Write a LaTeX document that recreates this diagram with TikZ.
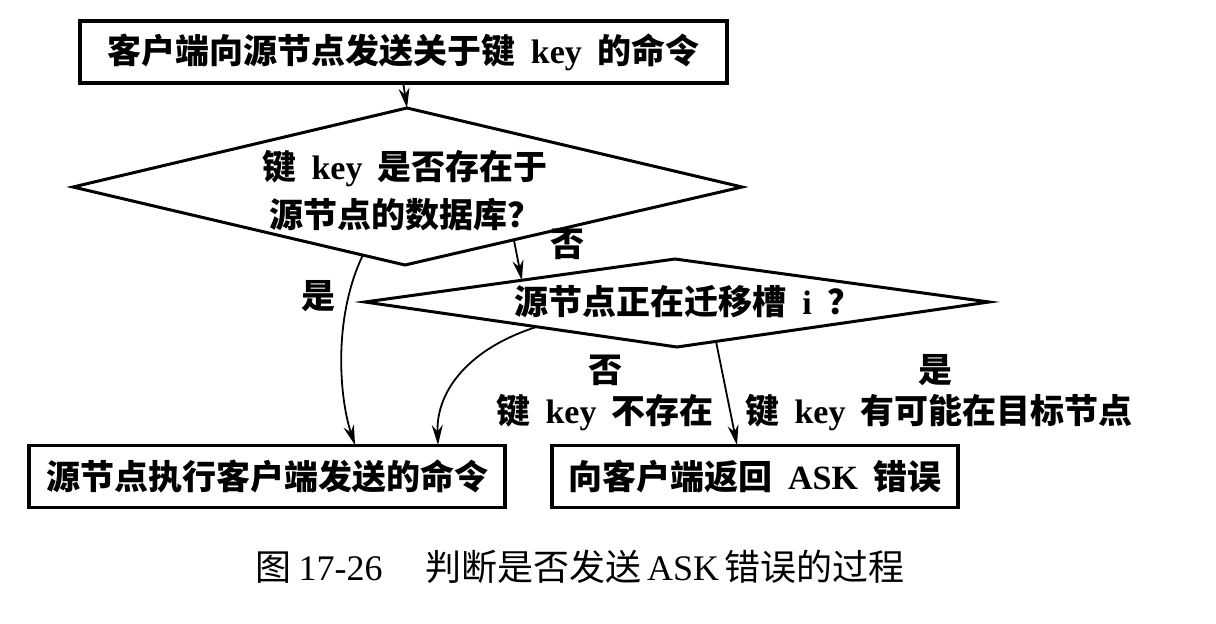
\documentclass[tikz,border=0pt]{standalone}
\usepackage{fontspec}
\setmainfont{Liberation Serif}
\newfontfamily\cjkfont{Noto Sans CJK SC}
\newcommand\zh[1]{{\cjkfont #1}}
\newcommand\gp{\hspace{0.45em}}
\usetikzlibrary{arrows.meta,calc}
\tikzset{
  box/.style={draw, line width=3.5pt, minimum height=62pt, inner sep=0pt, font=\fontsize{34}{46}\selectfont\bfseries},
  dia/.style={draw, line width=3pt, line join=miter},
  txt/.style={inner sep=0pt, align=center, font=\fontsize{34}{48}\selectfont\bfseries},
  conn/.style={draw, line width=1.8pt, -{Stealth[length=20pt,width=11pt]}},
}
\begin{document}
\begin{tikzpicture}[x=1pt,y=-1pt]
\useasboundingbox (0,0) rectangle (1216,624);
\fill[white] (0,0) rectangle (1216,624);
% boxes
\node[box, minimum width=647pt] (start) at (403.5,52) {\zh{客户端向源节点发送关于键}\gp key\gp\zh{的命令}};
\node[box, minimum width=476pt] (exec) at (267,476.5) {\zh{源节点执行客户端发送的命令}};
\node[box, minimum width=406pt] (ask) at (755,476.5) {\zh{向客户端返回}\gp ASK\gp\zh{错误}};
% diamond 1
\coordinate (d1t) at (407,108);
\coordinate (d1r) at (742,187);
\coordinate (d1b) at (405,265);
\coordinate (d1l) at (73,187);
\draw[dia] (d1t) -- (d1r) -- (d1b) -- (d1l) -- cycle;
\node[txt] (q1) at (405,191) {\zh{键}\gp key\gp\zh{是否存在于}\\\zh{源节点的数据库？}};
% diamond 2
\coordinate (d2t) at (675,259);
\coordinate (d2r) at (989,302);
\coordinate (d2b) at (677,347);
\coordinate (d2l) at (365,302);
\draw[dia] (d2t) -- (d2r) -- (d2b) -- (d2l) -- cycle;
\node[txt] (q2) at (688,302) {\zh{源节点正在迁移槽}\gp i\gp\zh{？}};
% connector points
\coordinate (a1) at ($(d1b)!0.323!(d1r)$);
\coordinate (a2) at ($(d2l)!0.506!(d2t)$);
\coordinate (b1) at ($(d1l)!0.873!(d1b)$);
\coordinate (b2) at (355,445);
\coordinate (c1) at ($(d2l)!0.551!(d2b)$);
\coordinate (c2) at (438,445);
\coordinate (e1) at ($(d2b)!0.125!(d2r)$);
\coordinate (e2) at (737,445);
% connectors
\draw[conn] (start.south) -- (d1t);
\draw[conn] (a1) -- (a2);
\draw[conn] (b1) .. controls (332,320) and (340,400) .. (b2);
\draw[conn] (c1) .. controls (470,348) and (436,390) .. (c2);
\draw[conn] (e1) -- (e2);
% labels
\node[txt] (l1) at (567,244) {\zh{否}};
\node[txt] (l2) at (318,296) {\zh{是}};
\node[txt] (l3) at (605,370) {\zh{否}};
\node[txt] (l4) at (605,413) {\zh{键}\gp key\gp\zh{不存在}};
\node[txt] (l5) at (935,370) {\zh{是}};
\node[txt] (l6) at (939,413) {\zh{键}\gp key\gp\zh{有可能在目标节点}};
% caption
\node[inner sep=0pt, font=\fontsize{36}{40}\selectfont] (cap) at (580,567) {\zh{图}\hspace{0.2em}17-26\hspace{1.2em}\zh{判断是否发送}\hspace{0.15em}ASK\hspace{0.15em}\zh{错误的过程}};
\end{tikzpicture}
\end{document}
